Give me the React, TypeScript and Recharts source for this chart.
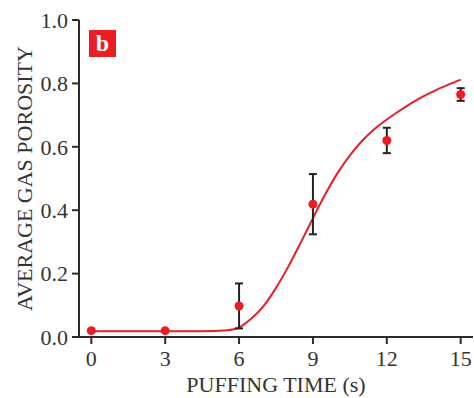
import {
  ComposedChart,
  ErrorBar,
  Line,
  Scatter,
  XAxis,
  YAxis,
} from "recharts";

const puffTimes = [0, 3, 6, 9, 12, 15];
const meanPorosity = [0.02, 0.02, 0.098, 0.419, 0.62, 0.765];
const porosityErr = [0, 0, 0.071, 0.095, 0.04, 0.02];

const fitTimes = [0, 1, 2, 3, 4, 5, 5.5, 6, 6.5, 7, 7.5, 8, 8.5, 9, 9.5, 10, 10.5, 11, 11.5, 12, 12.5, 13, 13.5, 14, 14.5, 15];
const fitPorosity = [
  0.018, 0.018, 0.018, 0.018, 0.018, 0.019, 0.021, 0.03, 0.058, 0.098, 0.155, 0.222,
  0.297, 0.375, 0.45, 0.517, 0.573, 0.619, 0.656, 0.686, 0.713, 0.738, 0.76, 0.779,
  0.796, 0.812,
];

const xTicks = [0, 3, 6, 9, 12, 15];
const yTicks = [0, 0.2, 0.4, 0.6, 0.8, 1.0];

const RED = "#ec1c24";
const AXIS = "#2b2b2b";
const FONT = "'Liberation Serif', 'Times New Roman', serif";

const points = puffTimes.map((t, i) => ({ x: t, y: meanPorosity[i], err: porosityErr[i] }));
const fit = fitTimes.map((t, i) => ({ x: t, y: fitPorosity[i] }));

const tickStyle = { fontSize: 22, fill: "#333", fontFamily: FONT };

export default function App() {
  return (
    <div style={{ position: "absolute", left: 0, top: 0, width: 474, height: 398 }}>
      <ComposedChart width={474} height={398} margin={{ top: 20, right: 1, bottom: 0, left: 0 }}>
        <XAxis
          xAxisId="top"
          orientation="top"
          type="number"
          dataKey="x"
          domain={[-0.5, 15.5]}
          height={0}
          tick={false}
          tickLine={false}
          stroke={AXIS}
          strokeWidth={2}
        />
        <YAxis
          yAxisId="right"
          orientation="right"
          domain={[0, 1]}
          width={0}
          tick={false}
          tickLine={false}
          stroke="#9a9a9a"
          strokeWidth={1}
        />
        <XAxis
          type="number"
          dataKey="x"
          domain={[-0.5, 15.5]}
          ticks={xTicks}
          height={61}
          tickSize={7}
          tickMargin={6}
          tick={tickStyle}
          stroke={AXIS}
          strokeWidth={2}
          label={{
            value: "PUFFING TIME (s)",
            position: "insideBottom",
            offset: 6,
            style: { fontSize: 22, fill: "#333", fontFamily: FONT },
          }}
        />
        <YAxis
          type="number"
          domain={[0, 1]}
          ticks={yTicks}
          width={79}
          tickSize={7}
          tickMargin={4}
          tick={tickStyle}
          tickFormatter={(v: number) => v.toFixed(1)}
          stroke={AXIS}
          strokeWidth={2}
          label={{
            value: "AVERAGE GAS POROSITY",
            angle: -90,
            position: "insideLeft",
            offset: 24,
            style: { fontSize: 22, fill: "#333", fontFamily: FONT, textAnchor: "middle" },
          }}
        />
        <Line
          data={fit}
          dataKey="y"
          type="monotone"
          stroke={RED}
          strokeWidth={2}
          dot={false}
          activeDot={false}
          isAnimationActive={false}
        />
        <Scatter data={points} dataKey="y" fill={RED} shape="circle" isAnimationActive={false}>
          <ErrorBar dataKey="err" direction="y" width={4} stroke="#222" strokeWidth={2} />
        </Scatter>
      </ComposedChart>
      <div
        style={{
          position: "absolute",
          left: 89,
          top: 30,
          width: 27,
          height: 27,
          background: RED,
          color: "#fff",
          fontFamily: FONT,
          fontWeight: "bold",
          fontSize: 24,
          lineHeight: "27px",
          textAlign: "center",
        }}
      >
        b
      </div>
    </div>
  );
}
